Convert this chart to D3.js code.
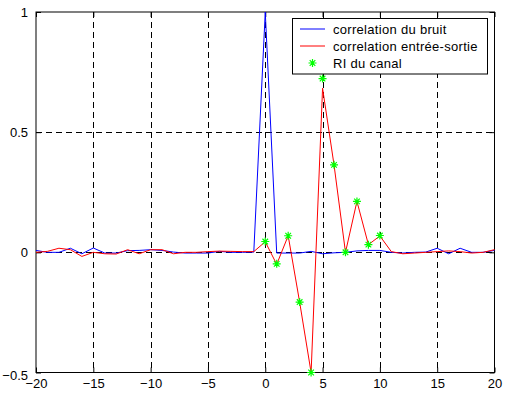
<!DOCTYPE html>
<html>
<head>
<meta charset="utf-8">
<script src="https://cdn.jsdelivr.net/npm/d3@7"></script>
<style>
html,body{margin:0;padding:0;background:#fff;}
svg{display:block;}
text{font-family:"Liberation Sans",Arial,sans-serif;fill:#000;}
</style>
</head>
<body>
<svg id="chart" width="505" height="394"></svg>
<script>
// Lags (categories)
const lags = [-20,-19,-18,-17,-16,-15,-14,-13,-12,-11,-10,-9,-8,-7,-6,-5,-4,-3,-2,-1,0,1,2,3,4,5,6,7,8,9,10,11,12,13,14,15,16,17,18,19,20];
// correlation du bruit (blue)
const noiseCorr = [0.008,0,0,0.017,-0.006,0.018,-0.003,-0.003,0.007,0.008,0.011,0.008,0.001,-0.003,-0.003,-0.003,0.004,0,0,0.001,1,-0.003,-0.003,-0.003,0.004,-0.006,-0.002,0,0.006,0.008,0.008,0,-0.003,0,0.001,0.017,-0.006,0.017,0,0,0.008];
// correlation entrée-sortie (red)
const ioCorr = [0,0.004,0.017,0.011,-0.017,0,-0.006,-0.007,0.011,-0.006,0.011,0.011,-0.006,0,0,0.003,0.005,0.004,0.003,0.003,0.044,-0.05,0.069,-0.207,-0.5,0.683,0.364,0,0.212,0.032,0.068,0.003,-0.006,-0.003,0,0.003,0.006,0.003,-0.003,0,0.011];
// RI du canal (green stars)
const riLags = [0,1,2,3,4,5,6,7,8,9,10];
const riValues = [0.045,-0.048,0.069,-0.207,-0.5,0.723,0.364,0,0.212,0.032,0.07];
// Tick labels
const xTicks = [-20,-15,-10,-5,0,5,10,15,20];
const yTicks = [-0.5,0,0.5,1];
const legendLabels = ["correlation du bruit","correlation entrée-sortie","RI du canal"];

const svg = d3.select("#chart");
const L = 36, R = 494.5, T = 12, B = 372.5;
const x = d3.scaleLinear().domain([-20,20]).range([L,R]);
const y = d3.scaleLinear().domain([-0.5,1]).range([B,T]);

// grid (dashed)
const grid = svg.append("g");
grid.selectAll("line.gx").data(xTicks.filter(d=>d>-20&&d<20)).join("line")
  .attr("x1",d=>Math.round(x(d))+0.5).attr("x2",d=>Math.round(x(d))+0.5)
  .attr("y1",T).attr("y2",B)
  .attr("stroke","#000").attr("stroke-width",1).attr("stroke-dasharray","6,4");
grid.selectAll("line.gy").data(yTicks.filter(d=>d>-0.5&&d<1)).join("line")
  .attr("y1",d=>Math.round(y(d))+0.5).attr("y2",d=>Math.round(y(d))+0.5)
  .attr("x1",L).attr("x2",R)
  .attr("stroke","#000").attr("stroke-width",1).attr("stroke-dasharray","6,4");

// axes with inward ticks
const fmtY = d => d3.format("")(d);
const gxB = svg.append("g").attr("transform",`translate(0,${B})`)
  .call(d3.axisBottom(x).tickValues(xTicks).tickSize(-5).tickPadding(6).tickFormat(d3.format("")));
const gxT = svg.append("g").attr("transform",`translate(0,${T})`)
  .call(d3.axisTop(x).tickValues(xTicks).tickSize(-5).tickFormat(""));
const gyL = svg.append("g").attr("transform",`translate(${L},0)`)
  .call(d3.axisLeft(y).tickValues(yTicks).tickSize(-5).tickPadding(8).tickFormat(fmtY));
const gyR = svg.append("g").attr("transform",`translate(${R},0)`)
  .call(d3.axisRight(y).tickValues(yTicks).tickSize(-5).tickFormat(""));
[gxB,gxT,gyL,gyR].forEach(g=>{
  g.select(".domain").remove();
  g.selectAll("line").attr("stroke","#000");
  g.selectAll("text").attr("font-size","13px").attr("font-family","Liberation Sans, Arial, sans-serif").attr("fill","#000");
});
gyL.selectAll(".tick").filter(d=>d===-0.5).select("text").attr("dy","0.55em");

// box
svg.append("rect").attr("x",L).attr("y",T).attr("width",R-L).attr("height",B-T)
  .attr("fill","none").attr("stroke","#000").attr("stroke-width",1);

// lines
const line = d3.line().x(d=>x(d[0])).y(d=>y(d[1]));
svg.append("path").datum(lags.map((l,i)=>[l,noiseCorr[i]]))
  .attr("d",line).attr("fill","none").attr("stroke","#0000ff").attr("stroke-width",1);
svg.append("path").datum(lags.map((l,i)=>[l,ioCorr[i]]))
  .attr("d",line).attr("fill","none").attr("stroke","#ff0000").attr("stroke-width",1);

// star markers
function star(g, cx, cy, r){
  const d = `M${cx-r},${cy}H${cx+r}M${cx},${cy-r}V${cy+r}` +
    `M${cx-r*0.7},${cy-r*0.7}L${cx+r*0.7},${cy+r*0.7}M${cx-r*0.7},${cy+r*0.7}L${cx+r*0.7},${cy-r*0.7}`;
  g.append("path").attr("d",d).attr("stroke","#00ff00").attr("stroke-width",1.2).attr("fill","none");
}
const stars = svg.append("g");
riLags.forEach((l,i)=>star(stars, x(l), y(riValues[i]), 4));

// legend
const lg = svg.append("g");
lg.append("rect").attr("x",292.5).attr("y",18.5).attr("width",195).attr("height",55.5)
  .attr("fill","#fff").attr("stroke","#000").attr("stroke-width",1);
const rowsY = [29,46,63];
lg.append("line").attr("x1",300).attr("x2",325).attr("y1",rowsY[0]).attr("y2",rowsY[0]).attr("stroke","#0000ff");
lg.append("line").attr("x1",300).attr("x2",325).attr("y1",rowsY[1]).attr("y2",rowsY[1]).attr("stroke","#ff0000");
star(lg, 312.5, rowsY[2], 4);
lg.selectAll("text").data(legendLabels).join("text")
  .attr("x",333).attr("y",(d,i)=>rowsY[i]).attr("dy","0.35em")
  .attr("font-size","13px").attr("letter-spacing","0.3px").text(d=>d);
</script>
</body>
</html>
